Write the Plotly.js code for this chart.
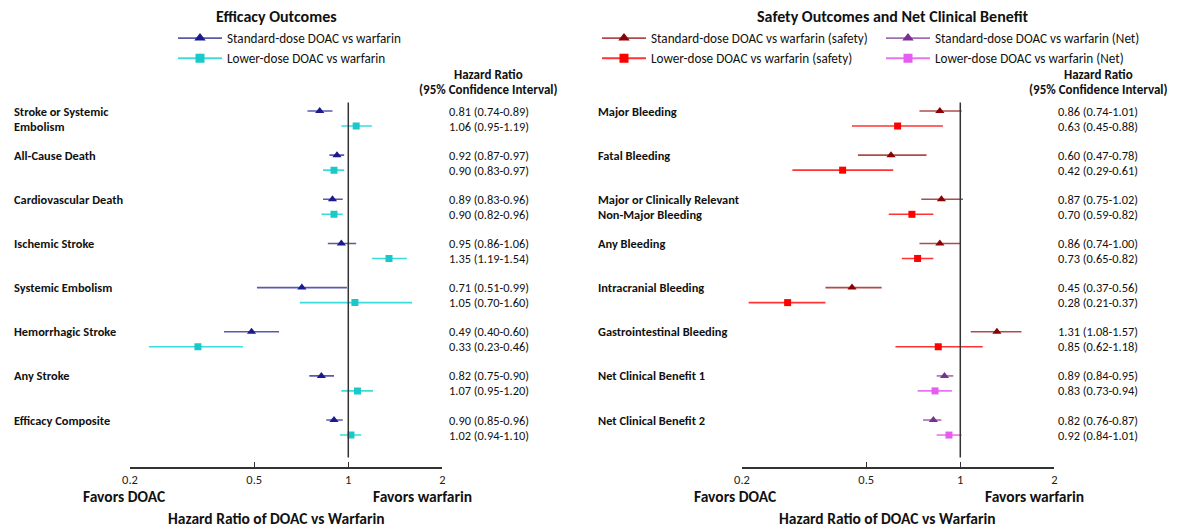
<!DOCTYPE html>
<html>
<head>
<meta charset="utf-8">
<script src="https://cdn.plot.ly/plotly-3.0.1.min.js"></script>
<style>html,body{margin:0;padding:0;background:#fff;}#chart{width:1177px;height:529px;}</style>
</head>
<body>
<div id="chart"></div>
<script>
// ---------- DATA ----------
const effCategories = ["Stroke or Systemic<br>Embolism", "All-Cause Death", "Cardiovascular Death", "Ischemic Stroke",
  "Systemic Embolism", "Hemorrhagic Stroke", "Any Stroke", "Efficacy Composite"];
const effStdHR = [0.81, 0.92, 0.89, 0.95, 0.71, 0.49, 0.82, 0.90];
const effStdLo = [0.74, 0.87, 0.83, 0.86, 0.51, 0.40, 0.75, 0.85];
const effStdHi = [0.89, 0.97, 0.96, 1.06, 0.99, 0.60, 0.90, 0.96];
const effLowHR = [1.06, 0.90, 0.90, 1.35, 1.05, 0.33, 1.07, 1.02];
const effLowLo = [0.95, 0.83, 0.82, 1.19, 0.70, 0.23, 0.95, 0.94];
const effLowHi = [1.19, 0.97, 0.96, 1.54, 1.60, 0.46, 1.20, 1.10];

const safCategories = ["Major Bleeding", "Fatal Bleeding", "Major or Clinically Relevant<br>Non-Major Bleeding", "Any Bleeding",
  "Intracranial Bleeding", "Gastrointestinal Bleeding", "Net Clinical Benefit 1", "Net Clinical Benefit 2"];
const safGroup = ["safety", "safety", "safety", "safety", "safety", "safety", "net", "net"];
const safStdHR = [0.86, 0.60, 0.87, 0.86, 0.45, 1.31, 0.89, 0.82];
const safStdLo = [0.74, 0.47, 0.75, 0.74, 0.37, 1.08, 0.84, 0.76];
const safStdHi = [1.01, 0.78, 1.02, 1.00, 0.56, 1.57, 0.95, 0.87];
const safLowHR = [0.63, 0.42, 0.70, 0.73, 0.28, 0.85, 0.83, 0.92];
const safLowLo = [0.45, 0.29, 0.59, 0.65, 0.21, 0.62, 0.73, 0.84];
const safLowHi = [0.88, 0.61, 0.82, 0.82, 0.37, 1.18, 0.94, 1.01];

const tickValues = [0.2, 0.5, 1, 2];
const tickLabels = ["0.2", "0.5", "1", "2"];

// ---------- STYLE ----------
const FONT = "Carlito, Lato, 'Liberation Sans', sans-serif";
const W = 1177, H = 529;
const LOW_OFFSET = 0.34;
const TXT = 12.4;
const C = {
  effStd: "#1a1a8e", effStdLine: "rgba(26,26,142,0.72)",
  effLow: "#19c9c9", effLowLine: "rgba(25,214,214,0.85)",
  safStd: "#8b0000", safStdLine: "rgba(139,0,0,0.7)",
  safLow: "#ff0000", safLowLine: "rgba(255,0,0,0.8)",
  netStd: "#7a3090", netStdLine: "rgba(122,48,144,0.7)",
  netLow: "#e45cf0", netLowLine: "rgba(228,92,240,0.85)"
};

function fmt(v) { return v.toFixed(2); }
function idx(n) { return Array.from({length: n}, (_, i) => i); }

function forestTrace(rows, hr, lo, hi, yoff, xaxis, symbol, size, mcolor, lcolor) {
  return {
    type: "scatter", mode: "markers", xaxis: xaxis, yaxis: "y", showlegend: false, hoverinfo: "skip",
    x: rows.map(i => hr[i]),
    y: rows.map(i => i + yoff),
    marker: {symbol: symbol, size: size, color: mcolor},
    error_x: {type: "data", symmetric: false,
      array: rows.map(i => hi[i] - hr[i]), arrayminus: rows.map(i => hr[i] - lo[i]),
      color: lcolor, thickness: 1.6, width: 0}
  };
}
function legendTrace(name, legend, symbol, size, mcolor, lcolor) {
  return {type: "scatter", mode: "lines+markers", x: [null], y: [null], name: name, legend: legend,
    xaxis: "x", yaxis: "y", hoverinfo: "skip",
    line: {color: lcolor, width: 1.8}, marker: {symbol: symbol, size: size, color: mcolor}};
}

const allRows = idx(8);
const safRows = allRows.filter(i => safGroup[i] === "safety");
const netRows = allRows.filter(i => safGroup[i] === "net");

const traces = [
  forestTrace(allRows, effStdHR, effStdLo, effStdHi, 0, "x", "triangle-up", 8, C.effStd, C.effStdLine),
  forestTrace(allRows, effLowHR, effLowLo, effLowHi, LOW_OFFSET, "x", "square", 7, C.effLow, C.effLowLine),
  forestTrace(safRows, safStdHR, safStdLo, safStdHi, 0, "x2", "triangle-up", 8, C.safStd, C.safStdLine),
  forestTrace(safRows, safLowHR, safLowLo, safLowHi, LOW_OFFSET, "x2", "square", 7, C.safLow, C.safLowLine),
  forestTrace(netRows, safStdHR, safStdLo, safStdHi, 0, "x2", "triangle-up", 8, C.netStd, C.netStdLine),
  forestTrace(netRows, safLowHR, safLowLo, safLowHi, LOW_OFFSET, "x2", "square", 7, C.netLow, C.netLowLine),
  legendTrace("Standard-dose DOAC vs warfarin", "legend", "triangle-up", 10, C.effStd, C.effStdLine),
  legendTrace("Lower-dose DOAC vs warfarin", "legend", "square", 9, C.effLow, C.effLowLine),
  legendTrace("Standard-dose DOAC vs warfarin (safety)", "legend2", "triangle-up", 10, C.safStd, C.safStdLine),
  legendTrace("Lower-dose DOAC vs warfarin (safety)", "legend2", "square", 9, C.safLow, C.safLowLine),
  legendTrace("Standard-dose DOAC vs warfarin (Net)", "legend3", "triangle-up", 10, C.netStd, C.netStdLine),
  legendTrace("Lower-dose DOAC vs warfarin (Net)", "legend3", "square", 9, C.netLow, C.netLowLine)
];

// pixel geometry helpers (layout only)
const ROW_PX = 44.15, FIRST_ROW_PX = 111, AXIS_PX = 467;
const yTopVal = -FIRST_ROW_PX / ROW_PX;
const yBotVal = (AXIS_PX - FIRST_ROW_PX) / ROW_PX;
const px = v => v / W, py = v => 1 - v / H;

function xAxisDef(d0, d1) {
  return {type: "log", range: [Math.log10(0.2), Math.log10(2)], domain: [px(d0), px(d1)], anchor: "y",
    tickmode: "array", tickvals: tickValues, ticktext: tickLabels, ticks: "inside", ticklen: 5, tickwidth: 1.5,
    tickcolor: "#333", showline: true, linecolor: "#333", linewidth: 1.5, showgrid: false, zeroline: false,
    tickfont: {family: FONT, size: 12.5, color: "#222"}, fixedrange: true};
}

const annotations = [];
function txt(x, y, text, opts) {
  annotations.push(Object.assign({xref: "paper", yref: "paper", x: px(x), y: py(y), text: text, showarrow: false,
    xanchor: "center", yanchor: "middle", font: {family: FONT, size: TXT, color: "#111"}}, opts || {}));
}
// titles
txt(276, 17, "<b>Efficacy Outcomes</b>", {font: {family: FONT, size: 16, color: "#111"}});
txt(893, 17, "<b>Safety Outcomes and Net Clinical Benefit</b>", {font: {family: FONT, size: 16, color: "#111"}});
// HR headers
[489, 1098].forEach(cx => {
  txt(cx, 74, "<b>Hazard Ratio</b>", {font: {family: FONT, size: 13, color: "#111"}});
  txt(cx, 89, "<b>(95% Confidence Interval)</b>", {font: {family: FONT, size: 13, color: "#111"}});
});
// bottom labels
[[124, 422, 276], [735, 1034, 887]].forEach(([a, b, c]) => {
  txt(a, 496, "<b>Favors DOAC</b>", {font: {family: FONT, size: 15.5, color: "#111"}});
  txt(b, 496, "<b>Favors warfarin</b>", {font: {family: FONT, size: 15.5, color: "#111"}});
  txt(c, 518, "<b>Hazard Ratio of DOAC vs Warfarin</b>", {font: {family: FONT, size: 15.5, color: "#111"}});
});
// category labels and HR texts
function rowTexts(cats, sHR, sLo, sHi, lHR, lLo, lHi, labelX, hrX) {
  cats.forEach((c, i) => {
    c.split("<br>").forEach((line, j) => {
      annotations.push({xref: "paper", yref: "y", x: px(labelX), y: i + j * LOW_OFFSET, text: "<b>" + line + "</b>",
        showarrow: false, xanchor: "left", yanchor: "middle", font: {family: FONT, size: TXT, color: "#111"}});
    });
    annotations.push({xref: "paper", yref: "y", x: px(hrX), y: i, showarrow: false, xanchor: "center", yanchor: "middle",
      text: fmt(sHR[i]) + " (" + fmt(sLo[i]) + "-" + fmt(sHi[i]) + ")", font: {family: FONT, size: TXT, color: "#111"}});
    annotations.push({xref: "paper", yref: "y", x: px(hrX), y: i + LOW_OFFSET, showarrow: false, xanchor: "center", yanchor: "middle",
      text: fmt(lHR[i]) + " (" + fmt(lLo[i]) + "-" + fmt(lHi[i]) + ")", font: {family: FONT, size: TXT, color: "#111"}});
  });
}
rowTexts(effCategories, effStdHR, effStdLo, effStdHi, effLowHR, effLowLo, effLowHi, 12, 489);
rowTexts(safCategories, safStdHR, safStdLo, safStdHi, safLowHR, safLowLo, safLowHi, 596, 1098);

const refLine = (xr) => ({type: "line", xref: xr, yref: "y", x0: 1, x1: 1, y0: -0.19, y1: 7.85,
  line: {color: "#333", width: 1.5}});

const legendBase = {xanchor: "left", yanchor: "top", bgcolor: "rgba(0,0,0,0)", borderwidth: 0,
  font: {family: FONT, size: 13.2, color: "#111"}, itemwidth: 44, tracegroupgap: 0, itemclick: false, itemdoubleclick: false};

const layout = {
  width: W, height: H, margin: {l: 0, r: 0, t: 0, b: 0}, paper_bgcolor: "#fff", plot_bgcolor: "#fff",
  font: {family: FONT},
  xaxis: xAxisDef(130, 442.3),
  xaxis2: xAxisDef(742, 1054.3),
  yaxis: {domain: [py(AXIS_PX), 1], range: [yBotVal, yTopVal], visible: false, fixedrange: true},
  shapes: [refLine("x"), refLine("x2")],
  annotations: annotations,
  legend: Object.assign({}, legendBase, {x: px(173), y: py(23)}),
  legend2: Object.assign({}, legendBase, {x: px(597), y: py(23)}),
  legend3: Object.assign({}, legendBase, {x: px(881), y: py(23)})
};

Plotly.newPlot("chart", traces, layout, {displayModeBar: false, staticPlot: true});
</script>
</body>
</html>
